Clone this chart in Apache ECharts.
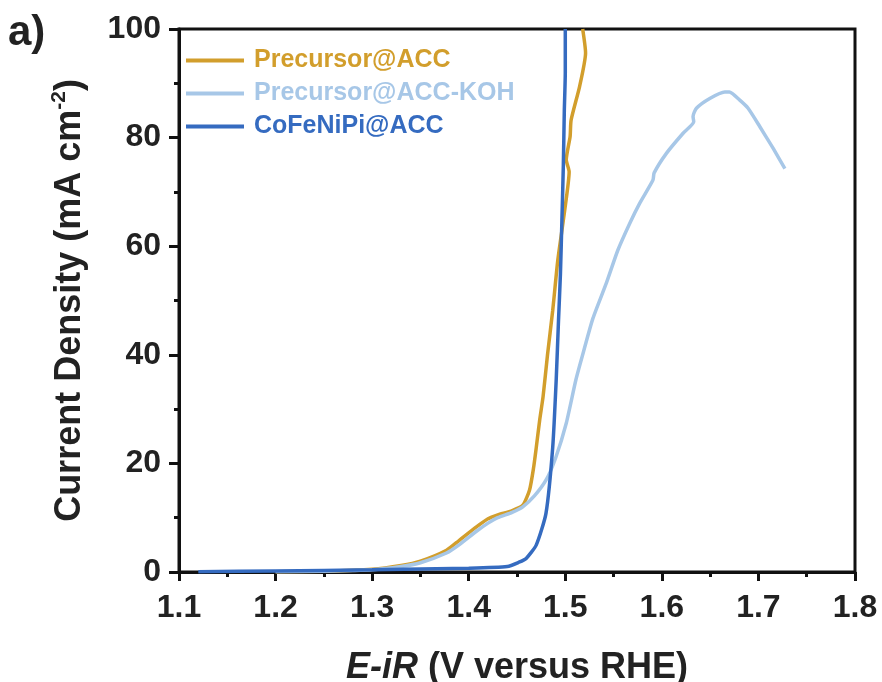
<!DOCTYPE html>
<html>
<head>
<meta charset="utf-8">
<script src="https://cdn.jsdelivr.net/npm/echarts@6/dist/echarts.min.js"></script>
<style>
html,body{margin:0;padding:0;background:#fff;}
#chart{width:882px;height:682px;}
</style>
</head>
<body>
<div id="chart"></div>
<script>
// ---- data ----
var seriesNames = ['Precursor@ACC', 'Precursor@ACC-KOH', 'CoFeNiPi@ACC'];
var seriesColors = ['#D29E2C', '#A7C7E7', '#356BC0'];

var precursorV = [1.20,1.25,1.30,1.33,1.35,1.377,1.39,1.408,1.42,1.43,1.445,1.456,1.463,1.467,1.470,1.4735,1.477,1.4816,1.487,1.4923,1.499,1.504,1.501,1.505,1.506,1.5148,1.521,1.518];
var precursorJ = [0.05,0.15,0.5,1.2,2.0,4.0,5.8,8.3,9.8,10.5,11.3,12.3,15.1,19,23,28,32.3,40,48.2,57.5,66.1,73.7,75.9,80.2,83.2,89.4,95.6,100];

var kohV = [1.20,1.25,1.30,1.33,1.35,1.377,1.39,1.408,1.42,1.43,1.445,1.456,1.468,1.4803,1.49,1.501,1.511,1.518,1.5286,1.5425,1.5545,1.5667,1.577,1.5908,1.592,1.6047,1.622,1.633,1.6323,1.6358,1.6496,1.6652,1.670,1.6807,1.6893,1.7015,1.7153,1.7274];
var kohJ = [0.05,0.15,0.4,1.0,1.7,3.5,5.0,7.5,9.0,10.0,11.0,12.0,14.0,17,21,27.4,35.4,40,46.7,53.2,59.3,64.2,67.9,72.2,73.5,77.1,80.8,82.9,83.9,85.4,87.2,88.4,88.4,86.9,85.4,82,78,74.3];

var cofeV = [1.12,1.20,1.30,1.40,1.44,1.452,1.4595,1.47,1.480,1.487,1.4906,1.493,1.495,1.4965,1.498,1.499,1.500,1.500];
var cofeJ = [0.05,0.2,0.4,0.7,1.0,1.8,2.5,5,10.8,23,35.4,46.4,55,64.8,75,85,92,100];

var xTicks = [1.1,1.2,1.3,1.4,1.5,1.6,1.7,1.8];
var yTicks = [0,20,40,60,80,100];

function zip(a,b){ return a.map(function(v,i){ return [v,b[i]]; }); }
var allData = [zip(precursorV,precursorJ), zip(kohV,kohJ), zip(cofeV,cofeJ)];

var FONT = 'Liberation Sans, Arial, sans-serif';
var chart = echarts.init(document.getElementById('chart'), null, {renderer:'canvas'});

var option = {
  animation:false,
  backgroundColor:'#fff',
  textStyle:{fontFamily:FONT},
  grid:{left:179,right:27,top:29,bottom:110,containLabel:false,outerBoundsMode:'none',
    show:true,borderColor:'#111',borderWidth:3,backgroundColor:'transparent'},
  legend:{
    left:186, top:48, padding:0, orient:'vertical', itemGap:8, itemWidth:58, itemHeight:4, icon:'rect',
    textStyle:{fontSize:25,fontWeight:'bold',fontFamily:FONT,padding:[0,0,0,5]},
    data: seriesNames.map(function(n,i){ return {name:n, textStyle:{color:seriesColors[i]}}; })
  },
  xAxis:{
    type:'value', min:xTicks[0], max:xTicks[xTicks.length-1], interval:0.1,
    axisLine:{show:true,lineStyle:{color:'#111',width:3}},
    axisTick:{show:true,inside:false,length:9,lineStyle:{width:3,color:'#111'}},
    minorTick:{show:true,splitNumber:2,length:5,lineStyle:{width:3,color:'#111'}},
    splitLine:{show:false},
    axisLabel:{fontSize:32,fontWeight:'bold',color:'#222',margin:20,fontFamily:FONT,
      formatter:function(v){ return v.toFixed(1); }},
    name:'{i|E-iR} (V versus RHE)', nameLocation:'middle', nameGap:78,
    nameTextStyle:{fontSize:36,fontWeight:'bold',color:'#222',fontFamily:FONT,
      rich:{i:{fontSize:36,fontWeight:'bold',fontStyle:'italic',color:'#222',fontFamily:FONT}}}
  },
  yAxis:{
    type:'value', min:yTicks[0], max:yTicks[yTicks.length-1], interval:20,
    axisLine:{show:true,lineStyle:{color:'#111',width:3}},
    axisTick:{show:true,inside:false,length:10,lineStyle:{width:3,color:'#111'}},
    minorTick:{show:true,splitNumber:2,length:5,lineStyle:{width:3,color:'#111'}},
    splitLine:{show:false},
    axisLabel:{fontSize:32,fontWeight:'bold',color:'#222',margin:18,fontFamily:FONT},
    name:'Current Density (mA cm{s|-2})', nameLocation:'middle', nameGap:88, nameRotate:90,
    nameTextStyle:{fontSize:36,fontWeight:'bold',color:'#222',fontFamily:FONT,lineHeight:42,
      rich:{s:{fontSize:21,fontWeight:'bold',color:'#222',fontFamily:FONT,verticalAlign:'top',lineHeight:42,padding:[0,0,15,0]}}}
  },
  graphic:[{type:'text',left:8,top:12,style:{text:'a)',font:'bold 42px '+FONT,fill:'#222'}}],
  series: seriesNames.map(function(n,i){
    return {name:n,type:'line',data:allData[i],showSymbol:false,symbol:'none',smooth:0.2,
      clip:true,lineStyle:{color:seriesColors[i],width:3.5},itemStyle:{color:seriesColors[i]},z:2+i};
  })
};
chart.setOption(option);
</script>
</body>
</html>
